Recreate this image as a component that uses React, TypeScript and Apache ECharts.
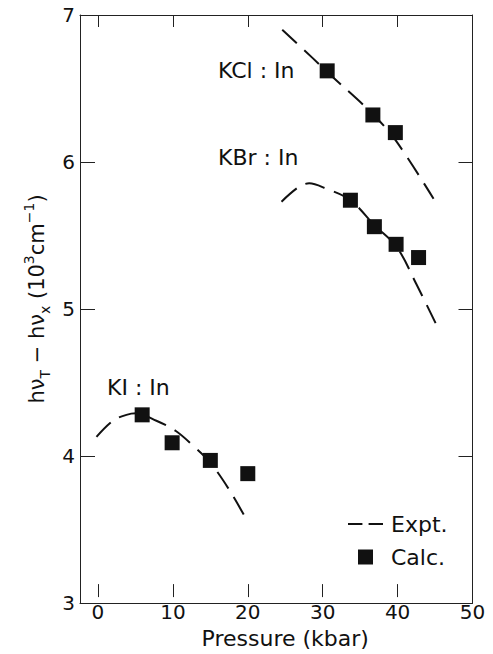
import React, { useEffect, useRef } from "react";
import * as echarts from "echarts";

// Tick values
const xMin = -2.4;
const xMax = 50;
const xTickInterval = 10;
const yMin = 3;
const yMax = 7;
const yTickInterval = 1;

// Calculated (squares): pressure (kbar), energy (10^3 cm^-1)
const kclCalcP = [30.6, 36.7, 39.7];
const kclCalcE = [6.62, 6.32, 6.2];
const kbrCalcP = [33.7, 36.9, 39.8, 42.8];
const kbrCalcE = [5.74, 5.56, 5.44, 5.35];
const kiCalcP = [5.9, 9.9, 15.0, 20.0];
const kiCalcE = [4.28, 4.09, 3.97, 3.88];

// Experimental (dashed curves)
const kclExptP = [24.6, 28.6, 31.3, 36.6, 39.7, 44.8];
const kclExptE = [6.9, 6.71, 6.58, 6.33, 6.15, 5.75];
const kbrExptP = [24.5, 26.8, 28.2, 30.4, 33.7, 36.9, 39.9, 42.5, 45.3];
const kbrExptE = [5.73, 5.83, 5.855, 5.82, 5.74, 5.57, 5.42, 5.17, 4.88];
const kiExptP = [-0.2, 2.0, 3.8, 5.1, 7.8, 10.4, 12.7, 14.9, 17.4, 19.8];
const kiExptE = [4.13, 4.24, 4.28, 4.29, 4.24, 4.17, 4.07, 3.96, 3.78, 3.57];

const zip = (a: number[], b: number[]) => a.map((v, i) => [v, b[i]]);

const INK = "#111";
const FONT = "DejaVu Sans";

export default function App() {
  const ref = useRef<HTMLDivElement>(null);
  useEffect(() => {
    if (!ref.current) return;
    const chart = echarts.init(ref.current, undefined, { renderer: "svg" });
    const W = 493;
    const gridLeft = 80;
    const gridRight = 20.5;
    const plotW = W - gridLeft - gridRight;
    // helper grid starting at x = 0 so that ticks fall on multiples of 10
    const tickGridLeft = gridLeft + ((0 - xMin) / (xMax - xMin)) * plotW;

    const axisLine = { show: true, onZero: false, lineStyle: { color: "#222", width: 1 } };
    const exptLine = (data: number[][]) => ({
      type: "line",
      name: "Expt.",
      data,
      xAxisIndex: 0,
      yAxisIndex: 0,
      smooth: 0.35,
      showSymbol: false,
      symbol: "none",
      color: INK,
      lineStyle: { color: INK, width: 2, type: [20, 10] },
      z: 2,
    });
    const calc = (data: number[][]) => ({
      type: "scatter",
      name: "Calc.",
      data,
      xAxisIndex: 0,
      yAxisIndex: 0,
      symbol: "rect",
      symbolSize: 15,
      color: INK,
      itemStyle: { color: INK, opacity: 1 },
      z: 3,
    });
    const txt = (text: string, x: number, y: number) => ({
      type: "text",
      x,
      y,
      style: { text, fontSize: 22, fontFamily: FONT, fill: INK, align: "left", verticalAlign: "middle" },
    });
    chart.setOption({
      animation: false,
      textStyle: { fontFamily: FONT },
      grid: [
        { left: gridLeft, right: gridRight, top: 15, bottom: 51 },
        { left: tickGridLeft, right: gridRight, top: 15, bottom: 51 },
      ],
      xAxis: [
        {
          type: "value",
          gridIndex: 0,
          position: "bottom",
          min: xMin,
          max: xMax,
          axisLine,
          axisTick: { show: false },
          axisLabel: { show: false },
          splitLine: { show: false },
        },
        {
          type: "value",
          gridIndex: 0,
          position: "top",
          min: xMin,
          max: xMax,
          axisLine,
          axisTick: { show: false },
          axisLabel: { show: false },
          splitLine: { show: false },
        },
        {
          type: "value",
          gridIndex: 1,
          position: "bottom",
          min: 0,
          max: xMax,
          interval: xTickInterval,
          axisLine: { show: false },
          axisTick: { show: true, inside: true, length: 13, lineStyle: { color: "#222", width: 1 } },
          axisLabel: { fontSize: 20, color: INK, margin: 5, fontFamily: FONT, showMinLabel: true, showMaxLabel: true },
          splitLine: { show: false },
          name: "Pressure (kbar)",
          nameLocation: "middle",
          nameGap: 28,
          nameTextStyle: { fontSize: 22, color: INK, fontFamily: FONT },
        },
        {
          type: "value",
          gridIndex: 1,
          position: "top",
          min: 0,
          max: xMax,
          interval: xTickInterval,
          axisLine: { show: false },
          axisTick: { show: true, inside: true, length: 12, lineStyle: { color: "#222", width: 1 } },
          axisLabel: { show: false },
          splitLine: { show: false },
        },
      ],
      yAxis: [
        {
          type: "value",
          gridIndex: 0,
          position: "left",
          min: yMin,
          max: yMax,
          interval: yTickInterval,
          axisLine,
          axisTick: { show: true, inside: true, length: 15, lineStyle: { color: "#222", width: 1 } },
          axisLabel: { fontSize: 20, color: INK, margin: 5, fontFamily: FONT },
          splitLine: { show: false },
        },
        {
          type: "value",
          gridIndex: 0,
          position: "right",
          min: yMin,
          max: yMax,
          interval: yTickInterval,
          axisLine,
          axisTick: { show: true, inside: true, length: 14, lineStyle: { color: "#222", width: 1 } },
          axisLabel: { show: false },
          splitLine: { show: false },
        },
        {
          type: "value",
          gridIndex: 1,
          min: yMin,
          max: yMax,
          show: false,
        },
      ],
      legend: {
        orient: "vertical",
        left: 348,
        top: 513,
        padding: 0,
        itemGap: 11,
        itemWidth: 35,
        itemHeight: 15,
        selectedMode: false,
        textStyle: { fontSize: 22, color: INK, fontFamily: FONT, padding: [0, 0, 0, 3] },
        data: [
          { name: "Expt.", icon: "path://M0,0H14V2H0Z M20,0H34V2H20Z" },
          { name: "Calc.", icon: "path://M0,0H10V10H0Z" },
        ],
      },
      graphic: [
        {
          type: "text",
          x: 37,
          y: 299,
          rotation: Math.PI / 2,
          style: {
            text: "hν{sub|T} − hν{sub|x} (10{sup|3}cm{sup|−1})",
            fontSize: 21,
            fontFamily: FONT,
            fill: INK,
            align: "center",
            verticalAlign: "middle",
            lineHeight: 30,
            rich: {
              sub: { fontSize: 14, fontFamily: FONT, fill: INK, verticalAlign: "bottom", lineHeight: 14 },
              sup: { fontSize: 14, fontFamily: FONT, fill: INK, verticalAlign: "top", lineHeight: 14 },
            },
          },
        },
        txt("KCl : In", 218, 70),
        txt("KBr : In", 218, 157),
        txt("KI : In", 107, 387),
      ],
      series: [
        exptLine(zip(kclExptP, kclExptE)),
        exptLine(zip(kbrExptP, kbrExptE)),
        exptLine(zip(kiExptP, kiExptE)),
        calc(zip(kclCalcP, kclCalcE)),
        calc(zip(kbrCalcP, kbrCalcE)),
        calc(zip(kiCalcP, kiCalcE)),
      ],
    });
    return () => chart.dispose();
  }, []);
  return (
    <div
      ref={ref}
      style={{ position: "fixed", left: 0, top: 0, width: 493, height: 654, background: "#fff" }}
    />
  );
}
